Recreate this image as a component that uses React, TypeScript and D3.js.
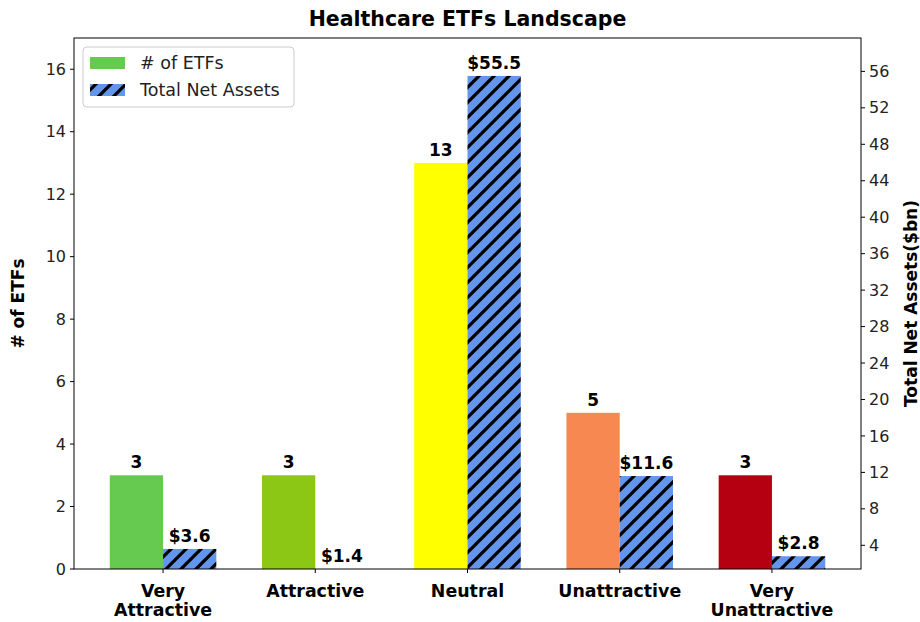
import React from "react";
import * as d3 from "d3";

const categories = ["Very\nAttractive", "Attractive", "Neutral", "Unattractive", "Very\nUnattractive"];
const etfCounts = [3, 3, 13, 5, 3];
const netAssets = [3.6, 1.4, 55.5, 11.6, 2.8];
const barColors = ["#65ca4f", "#8cc716", "#ffff00", "#f88851", "#b50012"];
const leftTicks = [0, 2, 4, 6, 8, 10, 12, 14, 16];
const rightTicks = [4, 8, 12, 16, 20, 24, 28, 32, 36, 40, 44, 48, 52, 56];

const W = 920;
const H = 622;
const plot = { left: 74, right: 861, top: 38, bottom: 569 };
const font = "DejaVu Sans, sans-serif";

export default function App() {
    const barW = 0.35;
    const x = d3
        .scaleLinear()
        .domain([-barW - 0.235, categories.length - 1 + barW + 0.235])
        .range([plot.left, plot.right]);
    const yLeft = d3.scaleLinear().domain([0, 17]).range([plot.bottom, plot.top]);
    // right axis starts at the smallest asset value
    const yRight = d3
        .scaleLinear()
        .domain([d3.min(netAssets)!, d3.max(netAssets)! * 1.075])
        .range([plot.bottom, plot.top]);
    const bw = x(barW) - x(0);

    return (
        <svg width={W} height={H} style={{ position: "absolute", left: 0, top: 0, background: "#fff" }} fontFamily={font}>
            <defs>
                <pattern id="hatch" patternUnits="userSpaceOnUse" width={15} height={15}>
                    <rect width={15} height={15} fill="#6495ed" />
                    <path d="M-4,4 l8,-8 M0,15 l15,-15 M11,19 l8,-8" stroke="#000" strokeWidth={3.2} />
                </pattern>
            </defs>
            <rect width={W} height={H} fill="#fff" />

            {/* bars */}
            {etfCounts.map((v, i) => (
                <rect
                    key={"c" + i}
                    x={x(i) - bw}
                    y={yLeft(v)}
                    width={bw}
                    height={yLeft(0) - yLeft(v)}
                    fill={barColors[i]}
                />
            ))}
            {netAssets.map((v, i) => (
                <rect
                    key={"a" + i}
                    x={x(i)}
                    y={yRight(v)}
                    width={bw}
                    height={Math.max(0, plot.bottom - yRight(v))}
                    fill="url(#hatch)"
                />
            ))}

            {/* value labels */}
            {etfCounts.map((v, i) => (
                <text key={"lc" + i} x={x(i) - bw / 2} y={yLeft(v) - 7} textAnchor="middle" fontSize={17} fontWeight="bold">
                    {v}
                </text>
            ))}
            {netAssets.map((v, i) => (
                <text key={"la" + i} x={x(i) + bw / 2} y={yRight(v) - 7} textAnchor="middle" fontSize={17} fontWeight="bold">
                    {"$" + v.toFixed(1)}
                </text>
            ))}

            {/* frame */}
            <rect
                x={plot.left}
                y={plot.top}
                width={plot.right - plot.left}
                height={plot.bottom - plot.top}
                fill="none"
                stroke="#000"
                strokeWidth={1}
            />

            {/* left axis */}
            {leftTicks.map((t) => (
                <g key={"lt" + t} transform={`translate(${plot.left},${yLeft(t)})`}>
                    <line x1={-4} x2={0} stroke="#000" />
                    <text x={-8} dy="0.35em" textAnchor="end" fontSize={16} fill="#222">
                        {t}
                    </text>
                </g>
            ))}
            {/* right axis */}
            {rightTicks.map((t) => (
                <g key={"rt" + t} transform={`translate(${plot.right},${yRight(t)})`}>
                    <line x1={0} x2={4} stroke="#000" />
                    <text x={8} dy="0.35em" textAnchor="start" fontSize={16} fill="#222">
                        {t}
                    </text>
                </g>
            ))}
            {/* x axis */}
            {categories.map((c, i) => (
                <g key={"xt" + i} transform={`translate(${x(i)},${plot.bottom})`}>
                    <line y1={0} y2={4} stroke="#000" />
                    {c.split("\n").map((line, j) => (
                        <text key={j} y={28 + j * 19} textAnchor="middle" fontSize={17.4} fontWeight="bold">
                            {line}
                        </text>
                    ))}
                </g>
            ))}

            {/* axis titles */}
            <text
                transform={`translate(24,${(plot.top + plot.bottom) / 2}) rotate(-90)`}
                textAnchor="middle"
                fontSize={17}
                fontWeight="bold"
            >
                # of ETFs
            </text>
            <text
                transform={`translate(917,${(plot.top + plot.bottom) / 2}) rotate(-90)`}
                textAnchor="middle"
                fontSize={17}
                fontWeight="bold"
            >
                Total Net Assets($bn)
            </text>
            <text x={(plot.left + plot.right) / 2} y={26} textAnchor="middle" fontSize={20.5} fontWeight="bold">
                Healthcare ETFs Landscape
            </text>

            {/* legend */}
            <g>
                <rect x={83} y={47} width={211} height={60} rx={4} fill="#fff" fillOpacity={0.8} stroke="#ccc" />
                <rect x={90} y={57} width={35} height={12} fill={barColors[0]} />
                <rect x={90} y={84} width={35} height={12} fill="url(#hatch)" />
                <text x={140} y={69} fontSize={17.5} fill="#222">
                    # of ETFs
                </text>
                <text x={140} y={96} fontSize={17.5} fill="#222">
                    Total Net Assets
                </text>
            </g>
        </svg>
    );
}
